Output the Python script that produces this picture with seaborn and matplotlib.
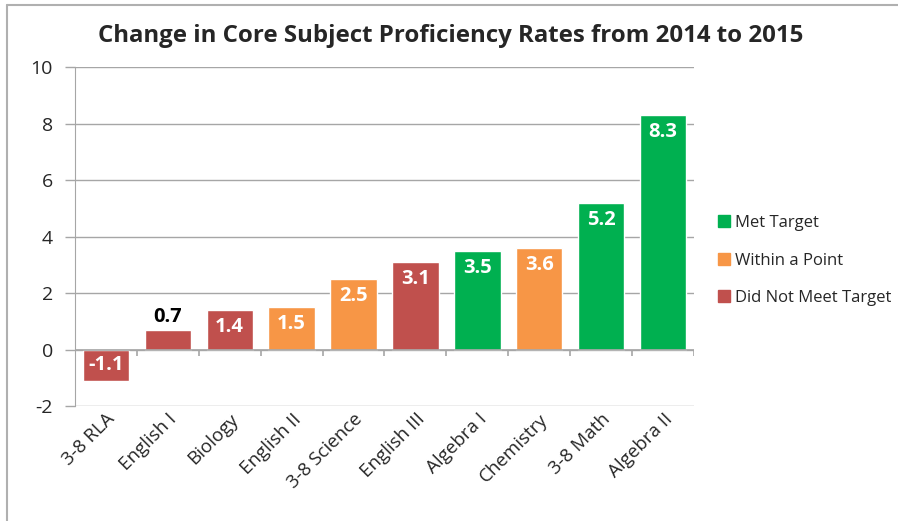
import matplotlib
matplotlib.use("Agg")
import matplotlib.pyplot as plt
import seaborn as sns
import pandas as pd
from matplotlib.lines import Line2D

subjects = ["3-8 RLA", "English I", "Biology", "English II", "3-8 Science",
            "English III", "Algebra I", "Chemistry", "3-8 Math", "Algebra II"]
changes = [-1.1, 0.7, 1.4, 1.5, 2.5, 3.1, 3.5, 3.6, 5.2, 8.3]
status = ["Did Not Meet Target", "Did Not Meet Target", "Did Not Meet Target",
          "Within a Point", "Within a Point", "Did Not Meet Target",
          "Met Target", "Within a Point", "Met Target", "Met Target"]
status_order = ["Met Target", "Within a Point", "Did Not Meet Target"]
status_colors = {"Met Target": "#00B050", "Within a Point": "#F79646",
                 "Did Not Meet Target": "#C0504D"}
y_ticks = [-2, 0, 2, 4, 6, 8, 10]

df = pd.DataFrame({"Subject": subjects, "Change": changes, "Status": status})

sns.set_style("white")
plt.rcParams["font.family"] = ["Open Sans", "DejaVu Sans"]

fig = plt.figure(figsize=(8.98, 5.21), dpi=100)
ax = fig.add_axes([0.0835, 0.2207, 0.6893, 0.6507])

sns.barplot(data=df, x="Subject", y="Change", hue="Status", hue_order=status_order,
            palette=status_colors, dodge=False, width=0.75, ax=ax, legend=False,
            saturation=1)

grey = "#A6A6A6"
ax.set_ylim(-2, 10)
ax.set_xlim(-0.5, len(subjects) - 0.5)
ax.set_yticks(y_ticks)
ax.set_yticklabels([str(t) for t in y_ticks], fontsize=14)
ax.yaxis.grid(True, color=grey, linewidth=1)
ax.set_axisbelow(True)
ax.tick_params(axis="y", length=7, color=grey, width=1, pad=9, left=True)
ax.tick_params(axis="x", length=0, pad=3)
ax.set_xticks(range(len(subjects)))
ax.set_xticklabels(subjects, rotation=45, ha="right", rotation_mode="anchor",
                   fontsize=13.5)
ax.set_xlabel("")
ax.set_ylabel("")
for side in ["top", "right", "bottom"]:
    ax.spines[side].set_visible(False)
ax.spines["left"].set_color(grey)

# category axis at zero with tick marks between categories
ax.axhline(0, color=grey, linewidth=1.2, zorder=3)
bounds = [i - 0.5 for i in range(len(subjects) + 1)]
ax.vlines(bounds, -0.22, 0, color=grey, linewidth=1.2, zorder=3)

for i, v in enumerate(changes):
    if v < 0:
        ax.annotate(f"{v:.1f}", (i, v), xytext=(0, 4), textcoords="offset points",
                    ha="center", va="bottom", color="white", fontsize=14.5,
                    fontweight="bold")
    elif v < 1:
        ax.annotate(f"{v:.1f}", (i, v), xytext=(0, 2), textcoords="offset points",
                    ha="center", va="bottom", color="black", fontsize=14.5,
                    fontweight="bold")
    else:
        ax.annotate(f"{v:.1f}", (i, v), xytext=(0, -5), textcoords="offset points",
                    ha="center", va="top", color="white", fontsize=14.5,
                    fontweight="bold")

handles = [Line2D([0], [0], marker="s", linestyle="none", markersize=8,
                  markerfacecolor=status_colors[k], markeredgecolor=status_colors[k])
           for k in status_order]
fig.legend(handles, status_order, loc="center left", bbox_to_anchor=(0.78, 0.5),
           frameon=False, fontsize=12, handletextpad=0.2, labelspacing=1.3,
           handlelength=1.0)

fig.text(0.502, 0.93, "Change in Core Subject Proficiency Rates from 2014 to 2015",
         ha="center", va="center", fontsize=17.3, fontweight="bold")

# outer chart border (top and left edges visible)
fig.add_artist(Line2D([7 / 898, 7 / 898], [0, 1 - 5 / 521], transform=fig.transFigure,
                      color="#B0B0B0", linewidth=1.5))
fig.add_artist(Line2D([7 / 898, 1], [1 - 5 / 521, 1 - 5 / 521], transform=fig.transFigure,
                      color="#B0B0B0", linewidth=1.5))

fig.savefig("out.png", dpi=100)
